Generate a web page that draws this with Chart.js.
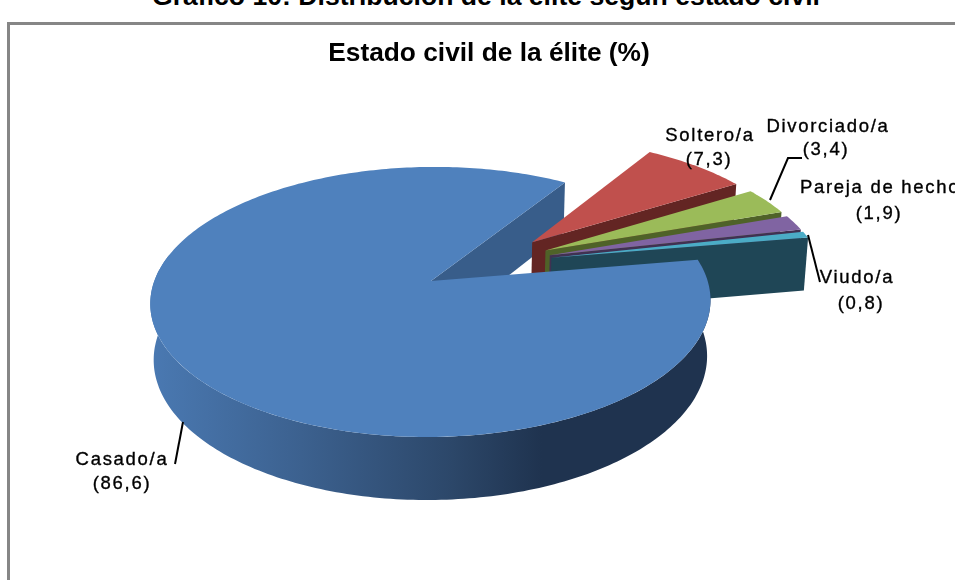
<!DOCTYPE html>
<html>
<head>
<meta charset="utf-8">
<title>Estado civil de la élite</title>
<script src="https://cdn.jsdelivr.net/npm/chart.js@4"></script>
<style>
  html, body { margin: 0; padding: 0; background: #fff; overflow: hidden; width: 955px; height: 581px; }
  #heading { position: absolute; left: 152px; top: -19px; font: bold 26.6px/30px "Liberation Sans", Arial, sans-serif; white-space: nowrap; color: #000; }
  #frame { position: absolute; left: 7px; top: 22px; width: 1000px; height: 558px; border: 3px solid #868686; border-right: 0; box-sizing: border-box; border-bottom: 0; }
  #chart { position: absolute; left: 0; top: 0; }
</style>
</head>
<body>
<div id="heading">Gráfico 10: Distribución de la élite según estado civil</div>
<div id="frame"></div>
<canvas id="chart" width="978" height="581"></canvas>
<script>
const categories = ['Casado/a', 'Soltero/a', 'Divorciado/a', 'Pareja de hecho', 'Viudo/a'];
const shares = [86.6, 7.3, 3.4, 1.9, 0.8];

const topColors = ['#4f81bd', '#c0504d', '#9bbb59', '#8064a2', '#4bacc6'];
const wallColors = ['#385d8a', '#632523', '#4f6228', '#403152', '#1f4656'];

// name centre x, name baseline y, value centre x, value baseline y (same order as categories)
const labelSpots = [
  [122, 465, 122, 489],
  [710, 141, 709, 165],
  [828, 132, 826, 155],
  [880, 193, 879, 219],
  [857, 283, 861, 309]
];
const leaders = [
  [[183, 422], [175, 464]],
  [],
  [[770, 200], [788, 158], [802, 158]],
  [],
  [[808, 235], [820, 282]]
];

// camera for the tilted pie, r = 1 in plane units
const view = { cx: 431, cy: 281, fx: 276.7, fy: 131.8, skew: -4, tilt: 0.155, depth: 55.9, depthTilt: 0.012, explode: 0.245 };

function project(u, v, z){
  const w = 1 - view.tilt*v + view.depthTilt*z;
  return [view.cx + view.fx*u/w + view.skew*v, view.cy + (view.fy*v + view.depth*z)/w];
}

function tracePoly(ctx, pts){
  ctx.beginPath();
  pts.forEach((p, i) => i ? ctx.lineTo(p[0], p[1]) : ctx.moveTo(p[0], p[1]));
  ctx.closePath();
}

function rimPoints(slice, z, end = slice.end){
  const pts = [];
  const n = Math.max(4, Math.ceil((end - slice.start)/(Math.PI/180)));
  for(let i = 0; i <= n; i++){
    const a = slice.start + (end - slice.start)*i/n;
    pts.push(project(slice.ox + Math.cos(a), slice.oy + Math.sin(a), z));
  }
  return pts;
}

const pie3d = {
  id: 'pie3d',
  beforeDatasetsDraw(chart){
    const ctx = chart.ctx;
    const arcs = chart.getDatasetMeta(0).data;
    const mid0 = (arcs[0].startAngle + arcs[0].endAngle)/2;
    const slices = arcs.map((arc, i) => {
      const mid = (arc.startAngle + arc.endAngle)/2;
      return {
        start: arc.startAngle,
        end: arc.endAngle,
        ox: view.explode*(Math.cos(mid) - Math.cos(mid0)),
        oy: view.explode*(Math.sin(mid) - Math.sin(mid0)),
        top: arc.options.backgroundColor,
        wall: wallColors[i]
      };
    });

    const rimFill = ctx.createLinearGradient(150, 0, 710, 0);
    rimFill.addColorStop(0, '#4a79b2');
    rimFill.addColorStop(0.27, '#3c618f');
    rimFill.addColorStop(0.54, '#2c4769');
    rimFill.addColorStop(0.7, '#1f334f');
    rimFill.addColorStop(1, '#1f334f');

    const endWall = s => {
      const ex = s.ox + Math.cos(s.end), ey = s.oy + Math.sin(s.end);
      tracePoly(ctx, [project(s.ox, s.oy, 0), project(ex, ey, 0), project(ex, ey, 1), project(s.ox, s.oy, 1)]);
      ctx.fillStyle = s.wall;
      ctx.fill();
    };
    const top = s => {
      tracePoly(ctx, [project(s.ox, s.oy, 0)].concat(rimPoints(s, 0)));
      ctx.fillStyle = s.top;
      ctx.fill();
    };

    // back to front: cut wall of the big slice, small slices, then the big slice
    endWall(slices[0]);
    slices.slice(1).forEach(s => { endWall(s); top(s); });
    // only the front of the rim shows, stop a little past the left edge
    const front = Math.PI + 0.2;
    tracePoly(ctx, rimPoints(slices[0], 0, front).concat(rimPoints(slices[0], 1, front).reverse()));
    ctx.fillStyle = rimFill;
    ctx.fill();
    top(slices[0]);
    return false;
  },
  afterDraw(chart){
    const ctx = chart.ctx;
    ctx.save();
    ctx.strokeStyle = '#000';
    ctx.lineWidth = 2;
    leaders.forEach(line => {
      if(!line.length) return;
      ctx.beginPath();
      line.forEach((p, i) => i ? ctx.lineTo(p[0], p[1]) : ctx.moveTo(p[0], p[1]));
      ctx.stroke();
    });
    ctx.fillStyle = '#000';
    ctx.lineWidth = 0.35;
    ctx.font = '18.5px "Liberation Sans", Arial, sans-serif';
    ctx.letterSpacing = '1.7px';
    ctx.textAlign = 'center';
    categories.forEach((name, i) => {
      const [x1, y1, x2, y2] = labelSpots[i];
      const value = '(' + String(shares[i]).replace('.', ',') + ')';
      ctx.fillText(name, x1, y1);
      ctx.strokeText(name, x1, y1);
      ctx.fillText(value, x2, y2);
      ctx.strokeText(value, x2, y2);
    });
    ctx.restore();
  }
};

new Chart(document.getElementById('chart'), {
  type: 'pie',
  data: {
    labels: categories,
    datasets: [{ data: shares, backgroundColor: topColors, borderWidth: 0 }]
  },
  options: {
    responsive: false,
    animation: false,
    rotation: 80.5,
    events: [],
    layout: { padding: { top: 20 } },
    plugins: {
      legend: { display: false },
      tooltip: { enabled: false },
      title: {
        display: true,
        text: 'Estado civil de la élite (%)',
        color: '#000',
        font: { family: '"Liberation Sans", Arial, sans-serif', size: 26.3, weight: 'bold' },
        padding: { top: 18, bottom: 0 }
      }
    }
  },
  plugins: [pie3d]
});
</script>
</body>
</html>
